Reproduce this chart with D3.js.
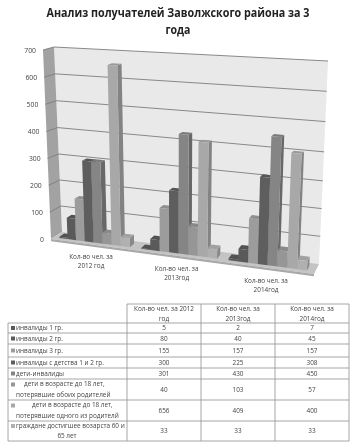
<!DOCTYPE html>
<html lang="ru">
<head>
<meta charset="UTF-8" />
<title>Анализ получателей</title>
<script src="https://cdn.jsdelivr.net/npm/d3@7/dist/d3.min.js"></script>
<style>
  html, body { margin: 0; background: #fff; }
  svg { display: block; filter: blur(0.4px); }
  text { font-family: "Open Sans", sans-serif; fill: #444; }
</style>
</head>
<body>
<script>
// data
var categories = ["Кол-во чел. за 2012 год", "Кол-во чел. за 2013год", "Кол-во чел. за 2014год"];
var seriesNames = [
  ["инвалиды 1 гр."],
  ["инвалиды 2 гр."],
  ["инвалиды 3 гр."],
  ["инвалиды с детства 1 и 2 гр."],
  ["дети-инвалиды"],
  ["дети в возрасте до 18 лет,", "потерявшие обоих родителей"],
  ["дети в возрасте до 18 лет,", "потерявшие одного из родителй"],
  ["граждане достигшее возарста 60 и", "65 лет"]
];
var values2012 = [5, 80, 155, 300, 301, 40, 656, 33];
var values2013 = [2, 40, 157, 225, 430, 103, 409, 33];
var values2014 = [7, 45, 157, 308, 450, 57, 400, 33];
var yTicks = [0, 100, 200, 300, 400, 500, 600, 700];
var allValues = [values2012, values2013, values2014];

var w = 354, h = 444;
var svg = d3.select("body").append("svg").attr("width", w).attr("height", h);

var barColors = ["#5a5a5a", "#5a5a5a", "#9c9c9c", "#5e5e5e", "#858585", "#969696", "#a8a8a8", "#b0b0b0"];

// title, squeezed because the original font is narrower
var titleWidths = [263, 25];
svg.selectAll("text.title")
  .data(["Анализ получателей Заволжского района за 3", "года"])
  .enter().append("text")
  .attr("class", "title")
  .attr("x", 178)
  .attr("y", function(d, i) { return 17 + i * 16.5; })
  .attr("text-anchor", "middle")
  .attr("textLength", function(d, i) { return titleWidths[i]; })
  .attr("lengthAdjust", "spacingAndGlyphs")
  .style("font-size", "12px")
  .style("font-weight", "700")
  .style("fill", "#222")
  .text(function(d) { return d; });

// fake 3d box: each edge of the box is its own scale, value -> pixel
var mid = 350, top_ = 700;
function edge(a, b, c) { return d3.scaleLinear().domain([0, mid, top_]).range([a, b, c]); }
var backL = { x: edge(62, 58, 54), y: edge(232, 141, 47) };
var backR = { x: edge(319, 323.5, 328), y: edge(264, 167, 61) };
var frontL = { x: edge(51, 47, 43), y: edge(239, 145, 50) };
var frontR = { x: edge(314, 318.5, 323), y: edge(274, 172, 66) };

function project(u, v, d) {
  var xb = backL.x(v) + (backR.x(v) - backL.x(v)) * u;
  var yb = backL.y(v) + (backR.y(v) - backL.y(v)) * u;
  var xf = frontL.x(v) + (frontR.x(v) - frontL.x(v)) * u;
  var yf = frontL.y(v) + (frontR.y(v) - frontL.y(v)) * u;
  return [xb + (xf - xb) * d, yb + (yf - yb) * d];
}
function poly(pts) { return pts.map(function(p) { return p.join(","); }).join(" "); }

// back wall
svg.append("polygon")
  .attr("points", poly([project(0, 0, 0), project(0, 700, 0), project(1, 700, 0), project(1, 0, 0)]))
  .attr("fill", "#e9e9e9");

// left wall
svg.append("polygon")
  .attr("points", poly([project(0, 0, 0), project(0, 700, 0), project(0, 700, 1), project(0, 0, 1)]))
  .attr("fill", "#a2a2a2");

// floor + lip
svg.append("polygon")
  .attr("points", poly([project(0, 0, 0), project(1, 0, 0), project(1, 0, 1), project(0, 0, 1)]))
  .attr("fill", "#c4c4c4");
svg.append("polygon")
  .attr("points", poly([project(0, 0, 1), project(1, 0, 1), project(1, -8, 1), project(0, -8, 1)]))
  .attr("fill", "#a8a8a8");

// gridlines on both walls
yTicks.forEach(function(t) {
  if (t === 0) return;
  svg.append("polyline")
    .attr("points", poly([project(0, t, 1), project(0, t, 0), project(1, t, 0)]))
    .attr("fill", "none")
    .attr("stroke", "#7d7d7d")
    .attr("stroke-width", 0.9);
});

// y labels
svg.selectAll("text.ytick")
  .data(yTicks)
  .enter().append("text")
  .attr("class", "ytick")
  .attr("x", function(d) { return project(0, d, 1)[0] - 7; })
  .attr("y", function(d) { return project(0, d, 1)[1] + 2.5; })
  .attr("text-anchor", "end")
  .style("font-size", "6.8px")
  .text(function(d) { return d; });

// bars: columns get wider towards the right, so the band position is warped a little
var groupScale = d3.scaleBand().domain(categories).range([0.02, 0.97]).paddingInner(0.13);
var barScale = d3.scaleBand().domain(d3.range(8)).range([0, groupScale.bandwidth()]);
var warp = d3.scalePow().exponent(1.06).domain([0, 1]).range([0.006, 1]);
var d0 = 0.3, d1 = 0.75;

function shade(c, k) { return d3.rgb(c).darker(k).formatHex(); }

categories.forEach(function(cat, ci) {
  allValues[ci].forEach(function(val, si) {
    var u0 = warp(groupScale(cat) + barScale(si));
    var u1 = warp(groupScale(cat) + barScale(si) + barScale.bandwidth());
    var g = svg.append("g");
    // right side
    g.append("polygon")
      .attr("points", poly([project(u1, 0, d1), project(u1, val, d1), project(u1, val, d0), project(u1, 0, d0)]))
      .attr("fill", shade(barColors[si], 0.7));
    // top
    g.append("polygon")
      .attr("points", poly([project(u0, val, d1), project(u1, val, d1), project(u1, val, d0), project(u0, val, d0)]))
      .attr("fill", shade(barColors[si], 0.25));
    // front
    g.append("polygon")
      .attr("points", poly([project(u0, 0, d1), project(u0, val, d1), project(u1, val, d1), project(u1, 0, d1)]))
      .attr("fill", barColors[si]);
  });
});

// category labels, split the same way as the picture
var catLines = [["Кол-во чел. за", "2012 год"], ["Кол-во чел. за", "2013год"], ["Кол-во чел. за", "2014год"]];
categories.forEach(function(cat, ci) {
  var p = project(warp(groupScale(cat) + groupScale.bandwidth() / 2), 0, 1);
  catLines[ci].forEach(function(line, li) {
    svg.append("text")
      .attr("x", p[0])
      .attr("y", p[1] + 15 + li * 9)
      .attr("text-anchor", "middle")
      .style("font-size", "6.4px")
      .text(line);
  });
});

// table
var colX = [8, 127, 201, 275, 349];
var rowY = [304, 323, 333, 344, 357, 368, 379, 400, 421, 441];
var grid = svg.append("g").attr("stroke", "#8f8f8f").attr("stroke-width", 0.8);
rowY.forEach(function(y, i) {
  grid.append("line").attr("x1", i === 0 ? colX[1] : colX[0]).attr("x2", colX[4]).attr("y1", y).attr("y2", y);
});
colX.forEach(function(x, i) {
  grid.append("line").attr("x1", x).attr("x2", x).attr("y1", i === 0 ? rowY[1] : rowY[0]).attr("y2", rowY[9]);
});

var tableFont = "6.4px";
function cellText(x, y, lines, anchor) {
  lines.forEach(function(line, li) {
    svg.append("text")
      .attr("x", x)
      .attr("y", y + (li - (lines.length - 1) / 2) * 10.5 + 2.4)
      .attr("text-anchor", anchor)
      .style("font-size", tableFont)
      .text(line);
  });
}

catLines.forEach(function(lines, ci) {
  var l = ci === 0 ? ["Кол-во чел. за 2012", "год"] : lines;
  cellText((colX[ci + 1] + colX[ci + 2]) / 2, (rowY[0] + rowY[1]) / 2, l, "middle");
});

seriesNames.forEach(function(name, si) {
  var cy = (rowY[si + 1] + rowY[si + 2]) / 2;
  svg.append("rect")
    .attr("x", 11).attr("y", (name.length > 1 ? cy - 7 : cy - 2))
    .attr("width", 4).attr("height", 4)
    .attr("fill", barColors[si]);
  if (name.length > 1 && si < 7) {
    svg.append("text").attr("x", si === 5 ? 24 : 32).attr("y", cy - 3.2).style("font-size", tableFont).text(name[0]);
    svg.append("text").attr("x", 16).attr("y", cy + 7.3).style("font-size", tableFont).text(name[1]);
  } else if (si === 7) {
    svg.append("text").attr("x", 16).attr("y", cy - 3.2).style("font-size", tableFont).text(name[0]);
    svg.append("text").attr("x", 67).attr("y", cy + 7.3).attr("text-anchor", "middle").style("font-size", tableFont).text(name[1]);
  } else {
    svg.append("text").attr("x", 16).attr("y", cy + 2.4).style("font-size", tableFont).text(name[0]);
  }
  allValues.forEach(function(vals, ci) {
    cellText((colX[ci + 1] + colX[ci + 2]) / 2, cy, [String(vals[si])], "middle");
  });
});
</script>
</body>
</html>
